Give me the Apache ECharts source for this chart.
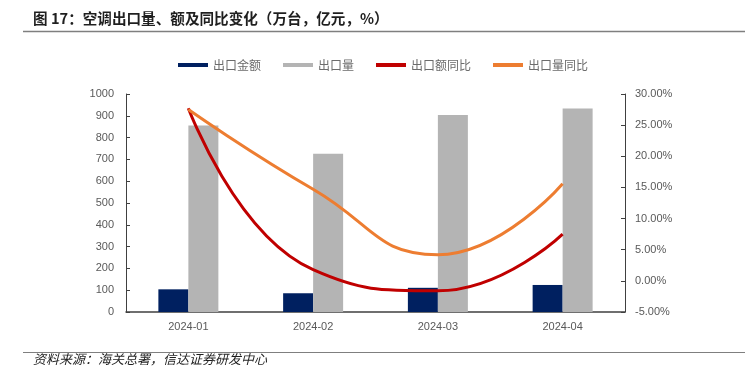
<!DOCTYPE html>
<html><head><meta charset="utf-8">
<script src="https://cdn.jsdelivr.net/npm/echarts@6/dist/echarts.min.js"></script>
<style>html,body{margin:0;padding:0;background:#fff}#c{width:753px;height:374px}</style>
</head><body><div id="c"></div>
<script>
const categories = ['2024-01', '2024-02', '2024-03', '2024-04'];
const exportValue = [104, 86, 111, 124];
const exportVolume = [855, 726, 904, 934];
const valueYoY = [27.7, 1.8, -1.6, 7.5];
const volumeYoY = [27.5, 14.7, 4.2, 15.6];

const FONT = '"Noto Sans CJK SC", sans-serif';
const chart = echarts.init(document.getElementById('c'), null, {renderer: 'canvas'});
chart.setOption({
  animation: false,
  backgroundColor: '#fff',
  graphic: [
    {type: 'text', left: 33, top: 11, style: {text: '图 17：空调出口量、额及同比变化（万台，亿元，%）', font: 'bold 14.6px ' + FONT, fill: '#1f1f1f'}},
    {type: 'line', shape: {x1: 23, y1: 31.5, x2: 745, y2: 31.5}, style: {stroke: '#7f7f7f', lineWidth: 1.5}},
    {type: 'line', shape: {x1: 23, y1: 352.5, x2: 745, y2: 352.5}, style: {stroke: '#7f7f7f', lineWidth: 1}},
    {type: 'text', left: 33, top: 353, style: {text: '资料来源：海关总署，信达证券研发中心', font: 'italic 13px ' + FONT, fill: '#1f1f1f'}}
  ],
  legend: {
    top: 54, left: 173, itemGap: 22, itemWidth: 30, itemHeight: 4,
    textStyle: {fontFamily: FONT, fontSize: 12, color: '#6b6b6b'},
    data: [
      {name: '出口金额', icon: 'rect'},
      {name: '出口量', icon: 'rect'},
      {name: '出口额同比', icon: 'rect'},
      {name: '出口量同比', icon: 'rect'}
    ]
  },
  grid: {left: 126, right: 128, top: 94, bottom: 62},
  xAxis: {
    type: 'category', data: categories,
    axisLine: {lineStyle: {color: '#404040', width: 1.5}},
    axisTick: {show: false},
    axisLabel: {color: '#595959', fontSize: 11, fontFamily: 'Liberation Sans', margin: 9}
  },
  yAxis: [
    {type: 'value', min: 0, max: 1000, interval: 100,
     axisLine: {show: true, lineStyle: {color: '#404040'}},
     axisTick: {show: true, inside: true, length: 4, lineStyle: {color: '#404040'}},
     splitLine: {show: false},
     axisLabel: {color: '#595959', fontSize: 11, fontFamily: 'Liberation Sans', margin: 12,
       formatter: v => String(v)}},
    {type: 'value', min: -5, max: 30, interval: 5,
     axisLine: {show: true, lineStyle: {color: '#404040'}},
     axisTick: {show: true, inside: true, length: 4, lineStyle: {color: '#404040'}},
     splitLine: {show: false},
     axisLabel: {color: '#595959', fontSize: 11, fontFamily: 'Liberation Sans', margin: 10,
       formatter: v => v.toFixed(2) + '%'}}
  ],
  series: [
    {name: '出口金额', type: 'bar', data: exportValue, barWidth: 30, barGap: '0%', itemStyle: {color: '#002060'}},
    {name: '出口量', type: 'bar', data: exportVolume, barWidth: 30, barGap: '0%', itemStyle: {color: '#b4b4b4'}},
    {name: '出口额同比', type: 'line', yAxisIndex: 1, data: valueYoY, smooth: 0.5, showSymbol: false, symbol: 'none',
     lineStyle: {color: '#c00000', width: 3}, itemStyle: {color: '#c00000'}},
    {name: '出口量同比', type: 'line', yAxisIndex: 1, data: volumeYoY, smooth: 0.5, showSymbol: false, symbol: 'none',
     lineStyle: {color: '#ed7d31', width: 3}, itemStyle: {color: '#ed7d31'}}
  ]
});
</script></body></html>
